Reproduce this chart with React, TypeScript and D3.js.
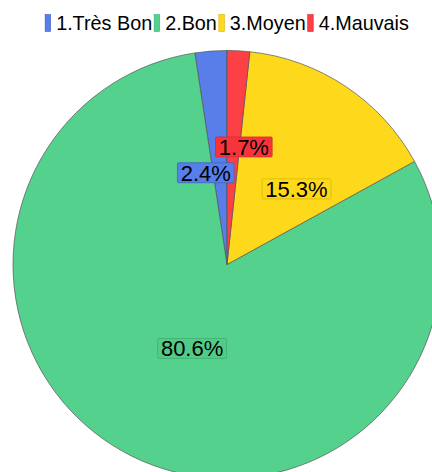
import React, { useMemo } from "react";
import * as d3 from "d3";

const categories = ["1.Très Bon", "2.Bon", "3.Moyen", "4.Mauvais"];
const percents = [2.4, 80.6, 15.3, 1.7];
const labelTexts = ["2.4%", "80.6%", "15.3%", "1.7%"];
const colors = ["#577ee9", "#55d18e", "#fed91b", "#fd4046"];
const boxStroke = ["#3a5cc0", "#3fae70", "#d8b400", "#d02a30"];
const boxFill = ["#577ee9", "#52cb89", "#fed91b", "#f8343b"];

// label placement (angle shift in degrees, radius fraction)
const labelAngleShift = [-8.7, -3.7, 8.9, 5.1];
const labelRadiusFrac = [0.44, 0.425, 0.48, 0.555];

const W = 432;
const H = 472;
const CX = 227;
const CY = 264.5;
const R = 214;
const FONT = "'Liberation Sans', Arial, sans-serif";
const LEG_FS = 19.8;
const LAB_FS = 22;

function measure(text: string, size: number): number {
  if (typeof document === "undefined") return text.length * size * 0.55;
  const c = document.createElement("canvas");
  const ctx = c.getContext("2d")!;
  ctx.font = `${size}px 'Liberation Sans', Arial, sans-serif`;
  return ctx.measureText(text).width;
}

export default function App() {
  const pie = d3
    .pie<number>()
    .sort(null)
    .startAngle(0)
    .endAngle(-2 * Math.PI)
    .value((d) => d);
  const arcs = pie(percents);
  const arc = d3.arc<d3.PieArcDatum<number>>().innerRadius(0).outerRadius(R);

  const legend = useMemo(() => {
    const rectW = 5.5;
    const gap1 = 5.5;
    const gap2 = 2;
    const widths = categories.map((c) => measure(c, LEG_FS));
    const total = widths.reduce((a, w) => a + rectW + gap1 + w + gap2, 0) - gap2;
    let x = CX - total / 2;
    return categories.map((c, i) => {
      const item = { x, tx: x + rectW + gap1, w: rectW, label: c, i };
      x += rectW + gap1 + widths[i] + gap2;
      return item;
    });
  }, []);

  return (
    <svg
      width={W}
      height={H}
      style={{ position: "absolute", left: 0, top: 0, background: "#fff" }}
      fontFamily={FONT}
    >
      <g>
        {legend.map((l) => (
          <g key={l.label}>
            <rect
              x={l.x}
              y={14.5}
              width={l.w}
              height={17}
              fill={colors[l.i]}
              stroke={boxStroke[l.i]}
              strokeWidth={0.6}
            />
            <text x={l.tx} y={30} fontSize={LEG_FS} fill="#000">
              {l.label}
            </text>
          </g>
        ))}
      </g>
      <g transform={`translate(${CX},${CY})`}>
        {arcs.map((a, i) => (
          <path
            key={i}
            d={arc(a) || ""}
            fill={colors[i]}
            stroke="#555"
            strokeWidth={0.7}
            strokeLinejoin="round"
          />
        ))}
        {arcs.map((a, i) => {
          const mid = (a.startAngle + a.endAngle) / 2 + (labelAngleShift[i] * Math.PI) / 180;
          const r = labelRadiusFrac[i] * R;
          const x = Math.sin(mid) * r;
          const y = -Math.cos(mid) * r;
          const tw = measure(labelTexts[i], LAB_FS);
          const bw = tw + 6.5;
          const bh = 20;
          return (
            <g key={"l" + i}>
              <rect
                x={x - bw / 2}
                y={y - bh / 2}
                width={bw}
                height={bh}
                fill={boxFill[i]}
                stroke={boxStroke[i]}
                strokeWidth={0.7}
                rx={1}
              />
              <text
                x={x}
                y={y + LAB_FS * 0.36}
                textAnchor="middle"
                fontSize={LAB_FS}
                fill="#000"
              >
                {labelTexts[i]}
              </text>
            </g>
          );
        })}
      </g>
    </svg>
  );
}
